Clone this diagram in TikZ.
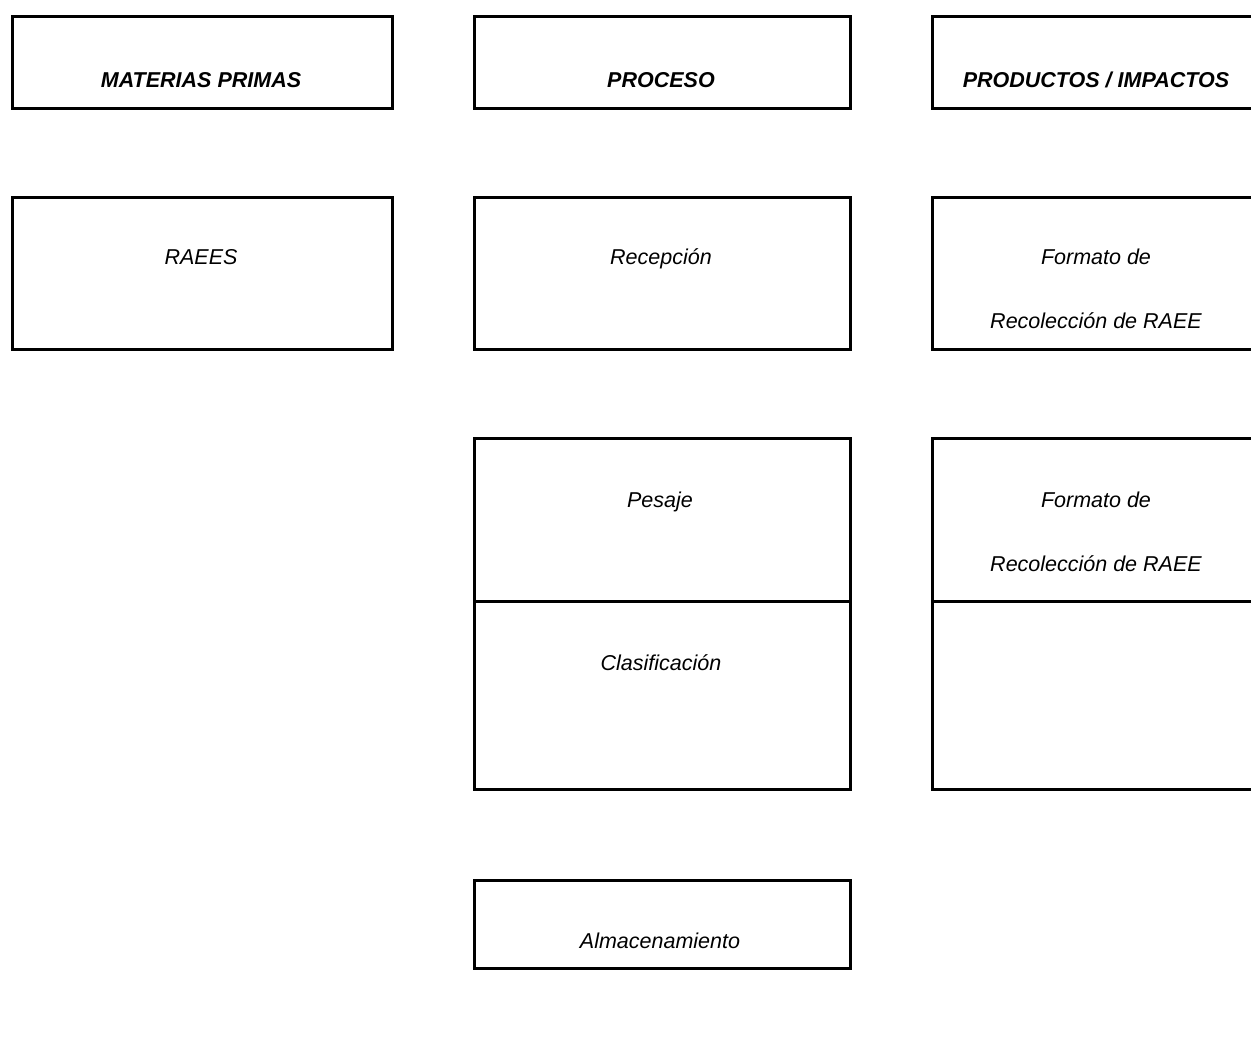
\documentclass[tikz,border=0pt]{standalone}
\usepackage{fontspec}
\setmainfont{Liberation Sans}
\begin{document}
\begin{tikzpicture}[x=1pt,y=-1pt,
  box/.style={draw=black,line width=2.8pt,inner sep=0pt,anchor=north west,rectangle},
  txt/.style={anchor=base,inner sep=0pt,font=\fontsize{21.5}{26}\selectfont\itshape},
  head/.style={txt,font=\fontsize{21.5}{26}\selectfont\bfseries\itshape}]
\useasboundingbox (0,0) rectangle (1251,1053);
\clip (0,0) rectangle (1251,1053);
% header row
\node[box,minimum width=380pt,minimum height=92pt] (bmp) at (11,15) {};
\node[box,minimum width=376pt,minimum height=92pt] (bpr) at (473,15) {};
\node[box,minimum width=330pt,minimum height=92pt] (bpi) at (931,15) {};
\node[head] (tmp) at (201,87) {MATERIAS PRIMAS};
\node[head] (tpr) at (661,87) {PROCESO};
\node[head] (tpi) at (1096,87) {PRODUCTOS / IMPACTOS};
% row 2
\node[box,minimum width=380pt,minimum height=152pt] (braees) at (11,196) {};
\node[box,minimum width=376pt,minimum height=152pt] (brec) at (473,196) {};
\node[box,minimum width=330pt,minimum height=152pt] (bfor1) at (931,196) {};
\node[txt] (traees) at (201,264) {RAEES};
\node[txt] (trec) at (661,264) {Recepción};
\node[txt] (tfor1a) at (1096,264) {Formato de};
\node[txt] (tfor1b) at (1096,328) {Recolección de RAEE};
% row 3
\node[box,minimum width=376pt,minimum height=163pt] (bpes) at (473,437) {};
\node[box,minimum width=376pt,minimum height=188pt] (bcla) at (473,600) {};
\node[box,minimum width=330pt,minimum height=163pt] (bfor2) at (931,437) {};
\node[box,minimum width=330pt,minimum height=188pt] (bemp) at (931,600) {};
\node[txt] (tpes) at (660,507) {Pesaje};
\node[txt] (tcla) at (661,670) {Clasificación};
\node[txt] (tfor2a) at (1096,507) {Formato de};
\node[txt] (tfor2b) at (1096,571) {Recolección de RAEE};
% row 4
\node[box,minimum width=376pt,minimum height=88pt] (balm) at (473,879) {};
\node[txt] (talm) at (660,948) {Almacenamiento};
\end{tikzpicture}
\end{document}
